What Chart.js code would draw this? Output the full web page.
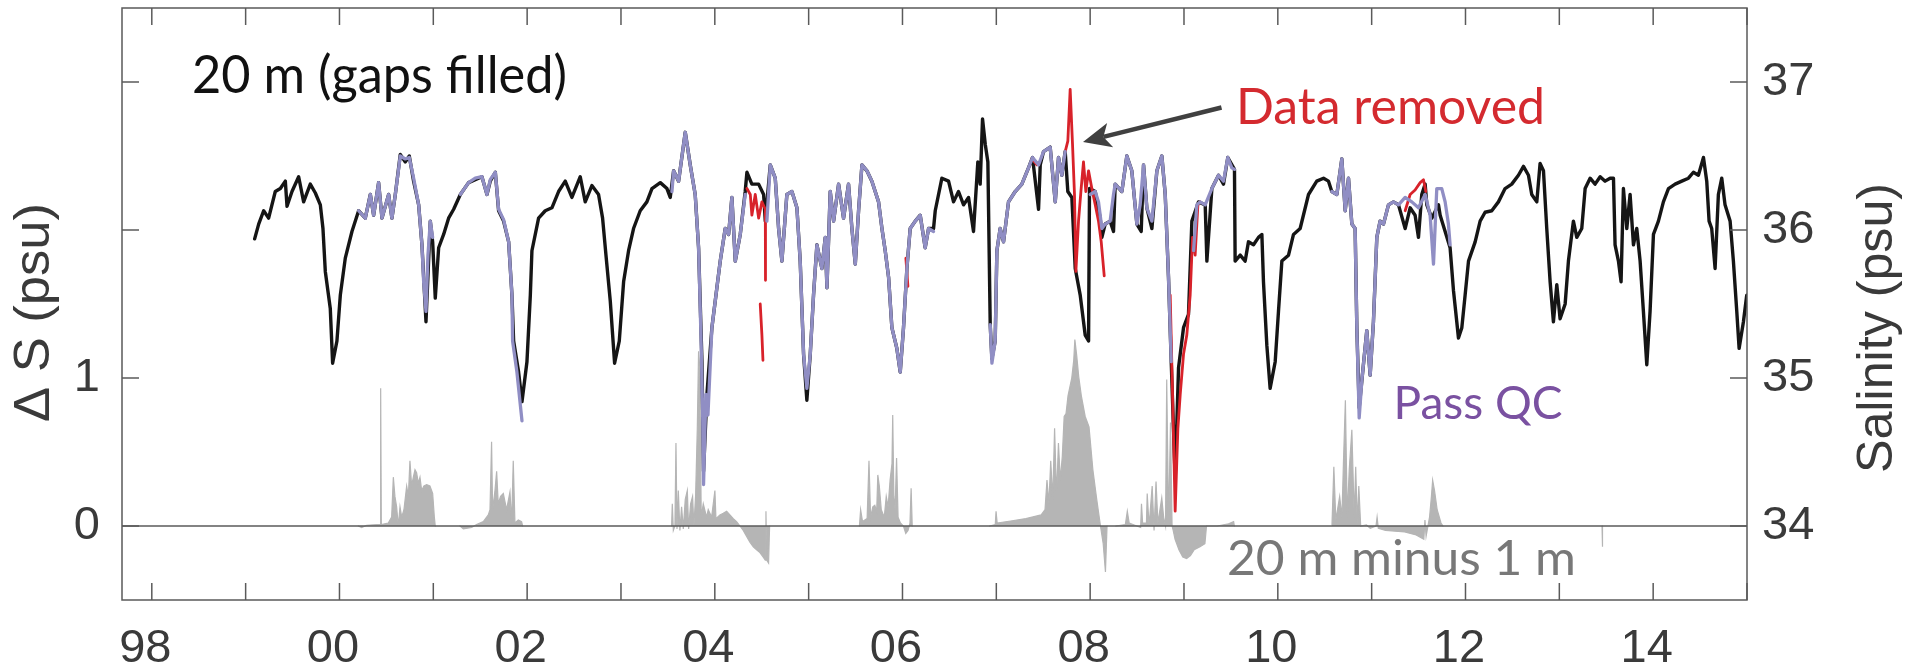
<!DOCTYPE html>
<html><head><meta charset="utf-8">
<script src="https://cdn.jsdelivr.net/npm/chart.js@4.4.1/dist/chart.umd.min.js"></script>
<style>html,body{margin:0;padding:0;background:#fff;} #wrap{width:1915px;height:671px;position:relative;}</style>
</head><body><div id="wrap"><canvas id="c"></canvas></div>
<script>
// ---- tick labels ----
const xTickYears = [1998,1999,2000,2001,2002,2003,2004,2005,2006,2007,2008,2009,2010,2011,2012,2013,2014,2015];
const xTickLabels = ['98','','00','','02','','04','','06','','08','','10','','12','','14',''];
const leftTickValues = [0,1,2,3];
const leftTickLabels = ['0','1','',''];
const rightTickValues = [34,35,36,37];
const rightTickLabels = ['34','35','36','37'];

// ---- 20 m salinity, gaps filled (black) ----
const blackYears = [1999.096,1999.139,1999.192,1999.245,1999.316,1999.370,1999.423,1999.441,1999.494,1999.565,1999.618,1999.689,1999.743,1999.796,1999.824,1999.849,1999.902,1999.927,1999.973,
2000.009,2000.062,2000.133,2000.204,2000.275,2000.329,2000.364,2000.417,2000.453,2000.524,2000.559,2000.595,2000.648,2000.702,2000.744,2000.790,2000.844,2000.879,2000.922,2000.968,2000.993,
2001.021,2001.057,2001.110,2001.163,2001.217,2001.288,2001.376,2001.447,2001.518,2001.572,2001.607,2001.661,2001.696,2001.749,2001.803,2001.838,2001.856,2001.909,2001.945,2001.998,
2002.034,2002.051,2002.122,2002.193,2002.264,2002.335,2002.406,2002.477,2002.566,2002.619,2002.690,2002.761,2002.804,2002.840,2002.886,2002.932,2002.982,
2003.028,2003.081,2003.134,2003.205,2003.276,2003.330,2003.419,2003.490,2003.525,2003.561,2003.614,2003.685,2003.738,2003.791,2003.827,2003.863,2003.880,2003.916,2003.969,
2004.022,2004.058,2004.111,2004.147,2004.182,2004.218,2004.271,2004.324,2004.342,2004.395,2004.467,2004.520,2004.538,2004.591,2004.644,2004.680,2004.715,2004.768,2004.822,2004.875,2004.910,2004.946,2004.981,
2005.017,2005.052,2005.088,2005.141,2005.177,2005.195,2005.230,2005.266,2005.319,2005.372,2005.425,2005.461,2005.497,2005.532,2005.568,2005.621,2005.674,2005.745,2005.781,2005.816,2005.852,2005.887,2005.940,2005.976,
2006.011,2006.047,2006.082,2006.136,2006.189,2006.242,2006.278,2006.331,2006.349,2006.420,2006.491,2006.544,2006.597,2006.651,2006.704,2006.757,2006.803,2006.828,2006.853,2006.882,2006.910,2006.935,2006.953,2006.988,
2007.006,2007.041,2007.077,2007.130,2007.201,2007.272,2007.343,2007.386,2007.450,2007.468,2007.503,2007.574,2007.628,2007.663,2007.698,2007.734,2007.762,2007.805,2007.841,2007.894,2007.947,2007.983,2007.993,
2008.054,2008.107,2008.125,2008.160,2008.213,2008.249,2008.267,2008.338,2008.391,2008.444,2008.498,2008.544,2008.569,2008.604,2008.658,2008.711,2008.764,2008.800,2008.835,2008.864,2008.906,2008.942,2008.995,
2009.048,2009.084,2009.155,2009.226,2009.244,2009.297,2009.368,2009.421,2009.467,2009.538,2009.545,2009.599,2009.652,2009.687,2009.741,2009.794,2009.830,2009.847,2009.883,2009.918,2009.972,
2010.007,2010.043,2010.114,2010.167,2010.238,2010.327,2010.415,2010.487,2010.540,2010.575,2010.629,2010.682,2010.718,2010.753,2010.789,2010.824,2010.842,2010.867,2010.895,2010.948,2010.984,
2011.019,2011.055,2011.090,2011.126,2011.179,2011.232,2011.286,2011.357,2011.410,2011.463,2011.499,2011.534,2011.570,2011.588,2011.641,2011.712,2011.730,2011.836,2011.872,2011.907,2011.925,2011.961,2011.996,
2012.032,2012.103,2012.156,2012.209,2012.280,2012.351,2012.422,2012.493,2012.564,2012.618,2012.671,2012.706,2012.760,2012.795,2012.831,2012.866,2012.902,2012.937,2012.973,
2013.008,2013.062,2013.097,2013.150,2013.186,2013.239,2013.275,2013.328,2013.381,2013.435,2013.488,2013.541,2013.577,2013.594,2013.630,2013.658,2013.683,2013.719,2013.754,2013.790,2013.825,2013.861,2013.896,2013.932,2013.967,
2014.003,2014.056,2014.109,2014.163,2014.234,2014.305,2014.376,2014.429,2014.482,2014.536,2014.571,2014.596,2014.624,2014.660,2014.695,2014.731,2014.766,2014.820,2014.855,2014.891,2014.916,2014.962,2014.997];
const blackSal = [35.94,36.04,36.13,36.08,36.26,36.28,36.33,36.16,36.26,36.36,36.19,36.31,36.25,36.17,36.01,35.72,35.47,35.10,35.25,
35.56,35.81,35.99,36.13,36.08,36.24,36.10,36.32,36.08,36.24,36.08,36.24,36.51,36.46,36.50,36.33,36.17,35.90,35.38,36.06,35.92,
35.54,35.88,35.97,36.08,36.14,36.24,36.32,36.34,36.36,36.24,36.33,36.39,36.13,36.06,35.92,35.56,35.25,35.04,34.84,35.11,
35.56,35.86,36.08,36.13,36.15,36.26,36.33,36.22,36.36,36.19,36.30,36.24,36.08,35.83,35.52,35.10,35.25,
35.65,35.86,36.01,36.13,36.19,36.28,36.32,36.28,36.22,36.40,36.33,36.66,36.44,36.24,35.88,35.11,34.37,34.89,35.34,
35.61,35.79,36.01,35.97,36.22,35.79,35.97,36.26,36.39,36.31,36.31,36.24,36.06,36.44,36.35,36.01,35.79,36.24,36.26,36.15,35.79,35.16,34.85,
35.16,35.56,35.90,35.74,35.95,35.61,36.26,36.06,36.31,36.08,36.31,36.01,35.77,36.13,36.44,36.40,36.33,36.19,36.01,35.86,35.68,35.34,35.20,35.04,
35.34,35.74,36.01,36.06,36.10,35.88,36.01,36.01,36.13,36.35,36.33,36.19,36.26,36.17,36.22,35.99,36.46,36.31,36.75,36.58,36.46,35.36,35.13,35.25,
35.86,36.01,35.92,36.19,36.26,36.31,36.42,36.49,36.14,36.44,36.53,36.56,36.19,36.49,36.37,36.53,36.26,36.22,35.74,35.56,35.29,35.25,36.28,
36.26,36.08,35.95,36.04,36.06,35.99,36.31,36.26,36.50,36.40,36.04,35.99,36.44,36.15,36.01,36.40,36.50,36.24,35.68,35.11,34.32,35.07,35.34,
35.43,36.06,36.19,36.17,35.79,36.28,36.37,36.31,36.49,36.41,35.79,35.83,35.79,35.92,35.90,35.95,35.97,35.65,35.22,34.93,35.11,
35.45,35.79,35.83,35.97,36.01,36.24,36.33,36.35,36.33,36.26,36.24,36.48,36.13,36.35,36.04,36.01,35.34,34.80,34.98,35.32,35.02,
35.38,35.95,36.06,36.04,36.17,36.19,36.17,36.01,36.15,36.10,35.95,36.24,36.31,36.17,36.08,36.17,36.10,35.88,35.59,35.38,35.27,35.34,35.56,
35.79,35.92,36.06,36.12,36.13,36.19,36.28,36.31,36.37,36.43,36.37,36.24,36.19,36.45,36.40,36.01,35.65,35.38,35.63,
35.40,35.50,35.79,36.06,35.95,36.01,36.28,36.35,36.31,36.36,36.33,36.35,36.35,35.90,35.79,35.65,36.28,36.01,36.24,35.90,36.01,35.79,35.45,35.09,35.45,
35.97,36.06,36.19,36.28,36.31,36.33,36.35,36.39,36.37,36.49,36.33,36.06,36.01,35.74,36.24,36.35,36.17,36.06,35.79,35.45,35.20,35.38,35.56];

// ---- Pass QC (purple); null = gap ----
const purpleYears = [2000.204,2000.275,2000.329,2000.364,2000.417,2000.453,2000.524,2000.559,2000.595,2000.648,2000.702,2000.744,2000.790,2000.844,2000.879,2000.897,2000.922,2000.943,2000.968,2000.993,null,
2001.288,2001.376,2001.447,2001.518,2001.572,2001.607,2001.661,2001.696,2001.749,2001.803,2001.838,2001.845,2001.891,2001.909,2001.945,null,
2003.543,2003.561,2003.614,2003.685,2003.738,2003.791,2003.827,2003.855,2003.870,2003.880,2003.905,2003.927,2003.969,2004.022,2004.058,2004.111,2004.147,2004.182,2004.218,2004.271,2004.324,null,
2004.555,2004.591,2004.644,2004.680,2004.715,2004.768,2004.822,2004.875,2004.910,2004.946,2004.981,2005.017,2005.052,2005.088,2005.141,2005.177,2005.195,2005.230,2005.266,2005.319,2005.372,2005.425,2005.461,2005.497,2005.532,2005.568,2005.621,2005.674,2005.745,2005.781,2005.816,2005.852,2005.887,2005.940,2005.976,2006.011,2006.047,2006.082,2006.136,2006.189,2006.242,2006.278,2006.331,null,
2006.935,2006.953,2006.988,2007.006,2007.041,2007.077,2007.130,2007.201,2007.272,2007.343,2007.386,2007.450,2007.503,2007.574,2007.628,2007.663,2007.698,2007.734,null,
2008.000,2008.054,2008.089,2008.125,2008.160,2008.213,2008.249,2008.267,2008.338,2008.391,2008.444,2008.498,2008.533,2008.569,2008.604,2008.658,2008.711,2008.764,2008.800,2008.835,2008.864,null,
2009.102,2009.137,2009.172,2009.226,2009.297,2009.368,2009.421,2009.467,2009.510,2009.538,null,
2010.575,2010.629,2010.682,2010.718,2010.753,2010.789,2010.824,2010.842,2010.867,2010.895,2010.948,2010.984,2011.019,2011.055,2011.090,2011.126,2011.179,2011.232,2011.286,2011.357,2011.428,2011.499,2011.570,2011.623,2011.659,2011.694,2011.747,2011.783,2011.818,2011.836];
const purpleSal = [36.13,36.08,36.24,36.10,36.32,36.08,36.24,36.08,36.24,36.50,36.48,36.49,36.35,36.17,35.90,35.65,35.45,35.83,36.06,35.95,null,
36.24,36.32,36.35,36.36,36.24,36.34,36.39,36.14,36.07,35.92,35.56,35.25,35.04,34.93,34.71,null,
36.26,36.40,36.33,36.66,36.44,36.24,35.88,35.22,34.77,34.28,34.89,34.75,35.34,35.61,35.79,36.01,35.97,36.22,35.79,35.97,36.24,null,
36.06,36.44,36.35,36.01,35.79,36.24,36.26,36.15,35.79,35.16,34.93,35.16,35.56,35.90,35.74,35.95,35.61,36.26,36.06,36.31,36.08,36.31,36.01,35.77,36.13,36.44,36.40,36.33,36.19,36.01,35.86,35.68,35.34,35.20,35.04,35.34,35.74,36.01,36.06,36.10,35.88,36.01,35.99,null,
35.36,35.10,35.25,35.86,36.01,35.92,36.19,36.26,36.31,36.42,36.49,36.44,36.53,36.56,36.19,36.49,36.37,36.53,null,
36.24,36.26,36.19,36.01,36.04,36.06,36.24,36.31,36.26,36.50,36.40,36.04,36.17,36.44,36.15,36.06,36.40,36.50,36.24,35.68,35.11,null,
35.86,36.17,36.19,36.17,36.28,36.37,36.33,36.49,36.42,36.41,null,
36.26,36.24,36.48,36.13,36.35,36.04,36.01,35.34,34.73,34.98,35.32,35.02,35.38,35.95,36.06,36.04,36.17,36.19,36.17,36.22,36.19,36.15,36.24,36.10,35.77,36.28,36.28,36.19,36.04,35.90];

// ---- Data removed (red); null = gap ----
const redYears = [2004.342,2004.378,2004.395,2004.431,2004.467,2004.502,2004.538,2004.540,null,2004.484,2004.502,2004.513,null,
2006.036,2006.058,null,2007.379,2007.432,null,
2007.734,2007.762,2007.787,2007.812,2007.833,2007.848,2007.876,2007.904,2007.929,2007.954,2007.983,2008.018,2008.054,2008.089,2008.118,2008.150,null,
2008.853,2008.878,2008.906,2008.935,2008.960,2008.995,2009.030,2009.066,2009.091,2009.119,2009.148,2009.172,null,
2011.357,2011.410,2011.463,2011.517,2011.552,2011.577];
const redSal = [36.28,36.24,36.10,36.24,36.08,36.19,36.14,35.66,null,35.50,35.29,35.12,null,
35.81,35.62,null,36.48,36.44,null,
36.53,36.60,36.95,36.58,36.24,35.72,36.06,36.28,36.46,36.26,36.40,36.28,36.17,36.06,35.92,35.69,null,
35.56,34.89,34.10,34.66,34.89,35.16,35.29,35.56,35.95,35.83,36.17,36.19,null,
36.13,36.24,36.27,36.32,36.34,36.26];

// ---- 20 m minus 1 m difference (grey, left axis); null = gap ----
const grayYears = [2000.201,2000.236,2000.290,2000.396,2000.432,2000.439,2000.446,2000.520,2000.556,2000.574,2000.591,2000.609,2000.627,2000.645,2000.663,2000.687,2000.716,2000.734,2000.751,2000.769,2000.787,2000.805,2000.822,2000.840,2000.858,2000.876,2000.900,2000.929,2000.964,2000.993,2001.011,2001.021,null,
2001.284,2001.320,2001.408,2001.461,2001.533,2001.586,2001.604,2001.621,2001.632,2001.657,2001.675,2001.692,2001.717,2001.746,2001.781,2001.817,2001.835,2001.852,2001.870,2001.906,2001.941,2001.952,null,
2003.539,2003.547,2003.558,2003.575,2003.586,2003.597,2003.611,2003.628,2003.646,2003.664,2003.685,2003.707,2003.721,2003.742,2003.763,2003.777,2003.795,2003.813,2003.827,2003.841,2003.855,2003.877,2003.912,2003.930,2003.966,2004.001,2004.012,2004.054,2004.090,2004.126,2004.161,2004.197,2004.232,2004.268,2004.303,2004.339,2004.374,2004.410,2004.445,2004.481,2004.516,2004.538,2004.545,2004.552,2004.573,2004.584,null,
2005.541,2005.554,2005.574,2005.623,2005.643,2005.660,2005.684,2005.705,2005.725,2005.737,2005.753,2005.774,2005.806,2005.827,2005.847,2005.868,2005.888,2005.896,2005.908,2005.921,2005.937,2005.953,2005.978,2006.010,2006.035,2006.059,2006.080,2006.092,2006.104,null,
2006.928,2006.989,2006.997,2007.009,2007.152,2007.315,2007.478,2007.519,2007.540,2007.560,2007.580,2007.601,2007.621,2007.642,2007.662,2007.682,2007.703,2007.723,2007.743,2007.764,2007.784,2007.804,2007.825,2007.837,2007.857,2007.878,2007.906,2007.947,2007.988,2008.029,2008.070,2008.110,2008.139,2008.163,2008.180,null,
2008.273,2008.375,2008.396,2008.416,2008.538,2008.547,2008.559,2008.600,2008.608,2008.628,2008.661,2008.681,2008.702,2008.722,2008.763,2008.783,2008.803,2008.816,2008.836,2008.856,2008.873,2008.885,2008.905,2008.946,2008.987,2009.028,2009.069,2009.109,2009.171,2009.223,2009.240,2009.354,2009.476,2009.529,2009.537,null,
2010.577,2010.597,2010.618,2010.659,2010.683,2010.699,2010.720,2010.740,2010.761,2010.789,2010.814,2010.830,2010.846,2010.863,2010.883,2010.944,2010.985,2011.046,2011.058,2011.071,2011.148,2011.352,2011.474,2011.556,2011.568,2011.580,2011.617,2011.637,2011.650,2011.670,2011.698,2011.739,2011.760,null,
2013.455,2013.458,2013.462];
const grayDiff = [0,-0.01,0.005,0.01,0.01,0.93,0.01,0.02,0.06,0.33,0.20,0.13,0,0.13,0.06,0.11,0.27,0.20,0.44,0.27,0.33,0.38,0.36,0.29,0.33,0.24,0.27,0.28,0.27,0.22,0.06,0,null,
0,-0.02,-0.01,0.01,0.03,0.075,0.11,0.57,0.11,0.24,0.37,0.15,0.20,0.22,0.11,0.23,0.02,0.44,0.02,0.04,0.03,0,null,
0,0.15,-0.03,0,0.56,-0.02,0.24,-0.03,0.13,-0.02,0.18,0.24,-0.02,0.15,0.20,0,0.20,0.65,1.18,1.06,0.06,0.15,0.06,0.11,0.06,0.24,0.05,0.075,0.086,0.10,0.075,0.05,0.03,0,-0.03,-0.07,-0.11,-0.14,-0.16,-0.18,-0.21,-0.23,0.10,-0.23,-0.25,0,null,
0,0.11,0.03,0.05,0.44,0.06,0.13,0.14,0.10,0.345,0.27,0.11,0.06,0.20,0.13,0.31,0.42,0.75,0.20,0.11,0.46,0.06,0.02,0,-0.05,-0.03,0.02,0.255,0,null,
0,0.01,0.10,0.02,0.034,0.05,0.075,0.11,0.31,0.15,0.44,0.18,0.66,0.20,0.56,0.31,0.47,0.74,0.76,0.88,0.94,1.00,1.12,1.26,1.15,1.01,0.88,0.74,0.67,0.38,0.18,0,-0.12,-0.31,0,null,
0,0.01,0.10,0.02,-0.01,0.15,0.02,0.02,0.22,0,0.27,-0.03,0.30,0.02,0.19,0.06,0,0.99,0,0.70,0,-0.03,-0.09,-0.16,-0.21,-0.22,-0.20,-0.16,-0.14,-0.12,0,0,0.015,0.03,0,null,
0.007,0.40,0.04,0.20,0.06,0.42,0.85,0.06,0.38,0.65,0.06,0.40,0.02,0.27,0,0.007,-0.015,0,0.06,-0.015,-0.03,-0.04,-0.06,-0.09,0.04,-0.07,0.06,0.20,0.31,0.24,0.11,0.02,0,null,
0,-0.14,0];

function pts(xs, ys) {
  const out = [];
  for (let i = 0; i < xs.length; i++) {
    if (ys[i] === null) out.push({x: xs[i-1], y: null});
    else out.push({x: xs[i], y: ys[i]});
  }
  return out;
}

const TICK_FONT = {family: '"Liberation Sans", Arial, sans-serif', size: 47};
const AXIS_COLOR = '#5a5a5a';
const LABEL_COLOR = '#3a3a3a';

function fitText(ctx, text, x, yBase, width, font, color) {
  ctx.save();
  ctx.font = font; ctx.fillStyle = color; ctx.textAlign = 'left'; ctx.textBaseline = 'alphabetic';
  const w = ctx.measureText(text).width;
  ctx.translate(x, yBase); ctx.scale(width / w, 1);
  ctx.fillText(text, 0, 0);
  ctx.restore();
}
function rotText(ctx, text, xBase, yCenter, width, font, color) {
  ctx.save();
  ctx.font = font; ctx.fillStyle = color; ctx.textAlign = 'center'; ctx.textBaseline = 'alphabetic';
  const w = ctx.measureText(text).width;
  ctx.translate(xBase, yCenter); ctx.rotate(-Math.PI / 2); ctx.scale(width / w, 1);
  ctx.fillText(text, 0, 0);
  ctx.restore();
}

const framePlugin = {
  id: 'frame',
  afterDatasetsDraw(chart) {
    const {ctx, chartArea: a, scales} = chart;
    const x = scales.x, y = scales.y, y2 = scales.y2;
    const L = 17;
    ctx.save();
    ctx.strokeStyle = AXIS_COLOR; ctx.lineWidth = 1.5; ctx.lineCap = 'butt';
    const seg = (x1, y1, x2, y2_) => { ctx.beginPath(); ctx.moveTo(x1, y1); ctx.lineTo(x2, y2_); ctx.stroke(); };
    const z = y.getPixelForValue(0);
    seg(a.left, z, a.right, z);
    ctx.strokeRect(a.left, a.top, a.right - a.left, a.bottom - a.top);
    for (const v of xTickYears) {
      const px = x.getPixelForValue(v);
      seg(px, a.bottom, px, a.bottom - L);
      seg(px, a.top, px, a.top + L);
    }
    for (const v of leftTickValues) { const py = y.getPixelForValue(v); seg(a.left, py, a.left + L, py); }
    for (const v of rightTickValues) { const py = y2.getPixelForValue(v); seg(a.right, py, a.right - L, py); }
    ctx.restore();
  },
  afterDraw(chart) {
    const ctx = chart.ctx;
    // annotations
    fitText(ctx, '20 m (gaps filled)', 192, 93, 375, '52px Lato', '#111111');
    fitText(ctx, 'Data removed', 1236, 124, 309, '50px Lato', '#d42a2f');
    fitText(ctx, 'Pass QC', 1393.5, 418.5, 169, '47px Lato', '#7a51a1');
    fitText(ctx, '20 m minus 1 m', 1227, 575, 349, '49px Lato', '#787878');
    // axis titles
    rotText(ctx, 'Δ S (psu)', 49, 312.5, 219, '50px "Liberation Sans"', LABEL_COLOR);
    rotText(ctx, 'Salinity (psu)', 1891.5, 328, 290, '50px "Liberation Sans"', LABEL_COLOR);
    // arrow
    const tail = [1221.5, 107.5], tip = [1083, 142];
    const dx = tip[0] - tail[0], dy = tip[1] - tail[1], len = Math.hypot(dx, dy);
    const ux = dx / len, uy = dy / len, nx = -uy, ny = ux;
    const HL = 28, HW = 12.5, NOTCH = 21;
    const bx = tip[0] - ux * HL, by = tip[1] - uy * HL;
    const kx = tip[0] - ux * NOTCH, ky = tip[1] - uy * NOTCH;
    ctx.save();
    ctx.strokeStyle = '#404040'; ctx.fillStyle = '#404040'; ctx.lineWidth = 4.5;
    ctx.beginPath(); ctx.moveTo(tail[0], tail[1]); ctx.lineTo(kx, ky); ctx.stroke();
    ctx.beginPath();
    ctx.moveTo(tip[0], tip[1]);
    ctx.lineTo(bx + nx * HW, by + ny * HW);
    ctx.lineTo(kx, ky);
    ctx.lineTo(bx - nx * HW, by - ny * HW);
    ctx.closePath(); ctx.fill();
    ctx.restore();
  }
};

const lineBase = {pointRadius: 0, tension: 0, spanGaps: false, borderJoinStyle: 'round', borderCapStyle: 'round', fill: false};

new Chart(document.getElementById('c'), {
  type: 'line',
  data: {
    datasets: [
      Object.assign({label: 'Pass QC', data: pts(purpleYears, purpleSal), yAxisID: 'y2', borderColor: '#908ec4', borderWidth: 3.3}, lineBase),
      Object.assign({label: 'Data removed', data: pts(redYears, redSal), yAxisID: 'y2', borderColor: '#d8222a', borderWidth: 2.8}, lineBase),
      Object.assign({label: '20 m (gaps filled)', data: pts(blackYears, blackSal), yAxisID: 'y2', borderColor: '#151515', borderWidth: 3.4}, lineBase),
      Object.assign({}, lineBase, {label: '20 m minus 1 m', data: pts(grayYears, grayDiff), yAxisID: 'y', borderColor: '#b5b5b5', backgroundColor: '#b5b5b5', borderWidth: 1.2, borderJoinStyle: 'miter', fill: 'origin'})
    ]
  },
  options: {
    responsive: true, maintainAspectRatio: false, animation: false, devicePixelRatio: 1,
    events: [],
    layout: {padding: {top: 8, left: 0, right: 0, bottom: 0}},
    plugins: {legend: {display: false}, tooltip: {enabled: false}},
    scales: {
      x: {
        type: 'linear', position: 'bottom', min: 1997.6824, max: 2015,
        grid: {display: false, drawTicks: false}, border: {display: false},
        afterBuildTicks: s => { s.ticks = xTickYears.map(v => ({value: v})); },
        afterFit: s => { s.height = 71; s.paddingLeft = 0; s.paddingRight = 0; },
        ticks: {autoSkip: false, maxRotation: 0, minRotation: 0, padding: 21, labelOffset: -6.5,
                color: LABEL_COLOR, font: TICK_FONT, callback: (v, i) => xTickLabels[i]}
      },
      y: {
        type: 'linear', position: 'left', min: -0.5, max: 3.5,
        grid: {display: false, drawTicks: false}, border: {display: false},
        afterBuildTicks: s => { s.ticks = leftTickValues.map(v => ({value: v})); },
        afterFit: s => { s.width = 122; s.paddingTop = 0; s.paddingBottom = 0; },
        ticks: {autoSkip: false, padding: 22, color: LABEL_COLOR, font: TICK_FONT, callback: (v, i) => leftTickLabels[i]}
      },
      y2: {
        type: 'linear', position: 'right', min: 33.5, max: 37.5,
        grid: {display: false, drawTicks: false}, border: {display: false},
        afterBuildTicks: s => { s.ticks = rightTickValues.map(v => ({value: v})); },
        afterFit: s => { s.width = 168; s.paddingTop = 0; s.paddingBottom = 0; },
        ticks: {autoSkip: false, padding: 15, color: LABEL_COLOR, font: TICK_FONT, callback: (v, i) => rightTickLabels[i]}
      }
    }
  },
  plugins: [framePlugin]
});
</script></body></html>
